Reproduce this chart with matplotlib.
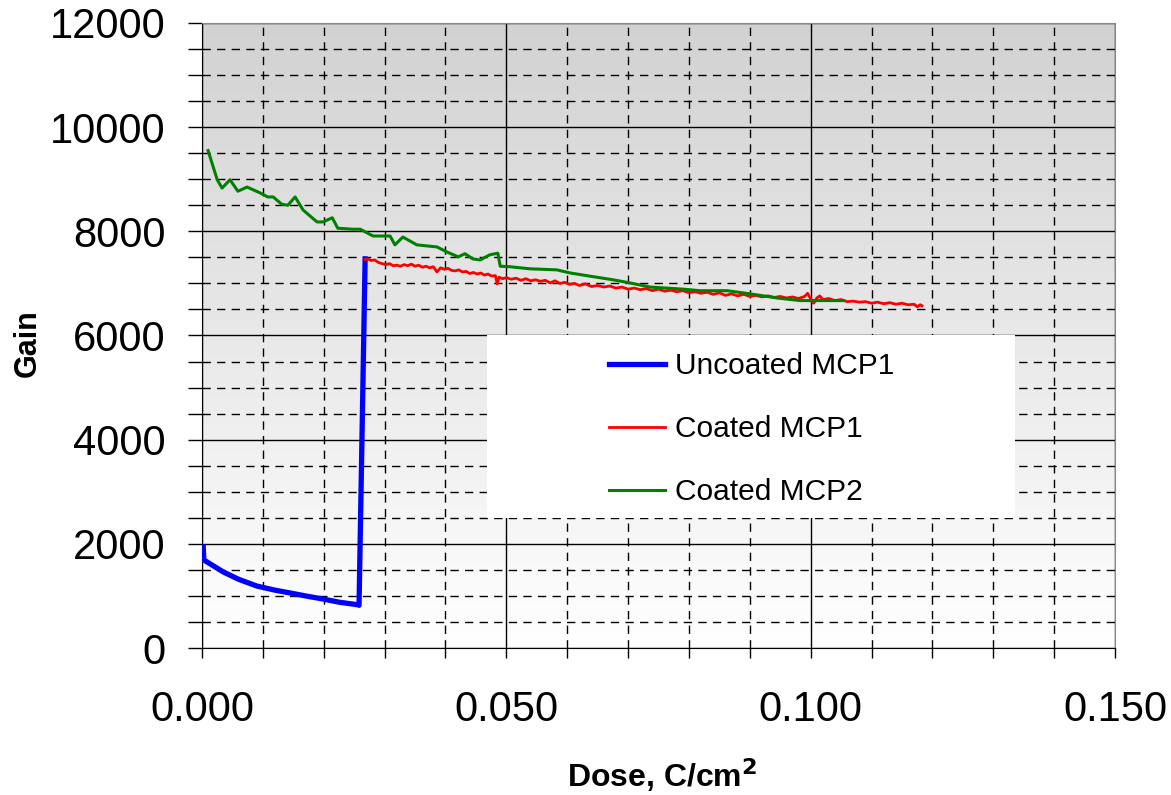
import numpy as np
import matplotlib
matplotlib.use("Agg")
import matplotlib.pyplot as plt
from matplotlib.colors import LinearSegmentedColormap
from matplotlib.ticker import MultipleLocator, FormatStrFormatter
from matplotlib.patches import Rectangle

plt.rcParams['font.family'] = ['Liberation Sans', 'DejaVu Sans']

# Uncoated MCP1 (blue)
blue_dose = [0.0002, 0.0003, 0.0010, 0.0035, 0.0060, 0.0090, 0.0120, 0.0145,
             0.0170, 0.0199, 0.0225, 0.0256, 0.0258, 0.0268]
blue_gain = [1940, 1690, 1640, 1460, 1320, 1190, 1110, 1056,
             1000, 940, 880, 830, 820, 7470]

# Coated MCP1 (red), read point by point incl. the wiggles
red_dose = [0.0268, 0.0272, 0.0278, 0.0284, 0.0290, 0.0296, 0.0302, 0.0308,
            0.0314, 0.0320, 0.0326, 0.0332, 0.0338, 0.0344, 0.0350, 0.0356,
            0.0362, 0.0368, 0.0374, 0.0380, 0.0386, 0.0392, 0.0398, 0.0404,
            0.0410, 0.0416, 0.0422, 0.0428, 0.0434, 0.0440, 0.0446, 0.0452,
            0.0458, 0.0464, 0.0470, 0.0476, 0.0482, 0.0485, 0.0488, 0.0494,
            0.0500, 0.0508, 0.0516, 0.0524, 0.0532, 0.0540, 0.0548, 0.0556,
            0.0564, 0.0572, 0.0580, 0.0588, 0.0596, 0.0604, 0.0612, 0.0620,
            0.0630, 0.0640, 0.0650, 0.0660, 0.0670, 0.0680, 0.0690, 0.0700,
            0.0710, 0.0720, 0.0730, 0.0740, 0.0750, 0.0760, 0.0770, 0.0780,
            0.0790, 0.0800, 0.0810, 0.0820, 0.0830, 0.0840, 0.0850, 0.0860,
            0.0870, 0.0880, 0.0890, 0.0900, 0.0910, 0.0920, 0.0930, 0.0940,
            0.0950, 0.0960, 0.0970, 0.0980, 0.0990, 0.0995, 0.1000, 0.1005,
            0.1010, 0.1015, 0.1020, 0.1030, 0.1040, 0.1050, 0.1060, 0.1070,
            0.1080, 0.1090, 0.1100, 0.1110, 0.1120, 0.1130, 0.1140, 0.1150,
            0.1160, 0.1170, 0.1175, 0.1180, 0.1183]
red_gain = [7460, 7470, 7440, 7450, 7400, 7380, 7360, 7380,
            7340, 7350, 7330, 7360, 7340, 7370, 7330, 7350,
            7310, 7330, 7300, 7320, 7220, 7300, 7270, 7290,
            7250, 7240, 7260, 7220, 7230, 7190, 7210, 7180,
            7200, 7160, 7180, 7140, 7150, 6990, 7120, 7090,
            7110, 7080, 7100, 7060, 7090, 7050, 7070, 7040,
            7060, 7010, 7050, 7000, 7020, 6980, 7000, 6960,
            6990, 6940, 6960, 6930, 6950, 6910, 6930, 6890,
            6910, 6880, 6900, 6860, 6890, 6850, 6870, 6840,
            6860, 6820, 6840, 6810, 6830, 6790, 6820, 6770,
            6800, 6760, 6790, 6750, 6770, 6740, 6760, 6730,
            6750, 6720, 6740, 6710, 6750, 6810, 6700, 6620,
            6720, 6760, 6690, 6710, 6670, 6690, 6650, 6660,
            6640, 6650, 6620, 6640, 6610, 6630, 6600, 6620,
            6590, 6600, 6550, 6590, 6570]

# Coated MCP2 (green)
green_dose = [0.0010, 0.0025, 0.0033, 0.0046, 0.0059, 0.0074, 0.0095, 0.0108,
              0.0117, 0.0131, 0.0141, 0.0153, 0.0166, 0.0189, 0.0199, 0.0214,
              0.0223, 0.0248, 0.0260, 0.0281, 0.0309, 0.0317, 0.0330, 0.0353,
              0.0386, 0.0403, 0.0421, 0.0432, 0.0445, 0.0457, 0.0473, 0.0486,
              0.0490, 0.0506, 0.0539, 0.0583, 0.0605, 0.0637, 0.0675, 0.0703,
              0.0736, 0.0790, 0.0818, 0.0863, 0.0900, 0.0945, 0.0983, 0.1053]
green_gain = [9550, 8990, 8830, 8990, 8770, 8850, 8740, 8660,
              8660, 8520, 8500, 8660, 8410, 8180, 8180, 8260,
              8060, 8040, 8040, 7910, 7910, 7740, 7890, 7740,
              7700, 7600, 7510, 7570, 7470, 7450, 7550, 7580,
              7330, 7320, 7280, 7260, 7200, 7140, 7070, 7010,
              6930, 6890, 6860, 6860, 6800, 6720, 6670, 6670]

x_ticks = [0.0, 0.05, 0.10, 0.15]
y_ticks = [0, 2000, 4000, 6000, 8000, 10000, 12000]

fig = plt.figure(figsize=(11.71, 7.95), dpi=100)
ax = fig.add_axes([0.1725, 0.1849, 0.7797, 0.7862])

# grey-to-white background
grad = LinearSegmentedColormap.from_list('bg', ['#ffffff', '#d2d2d2'])
ax.imshow(np.linspace(0, 1, 256).reshape(-1, 1), cmap=grad, origin='lower',
          extent=[0, 1, 0, 1], transform=ax.transAxes, aspect='auto', zorder=0)

ax.set_xlim(0, 0.15)
ax.set_ylim(0, 12000)
ax.set_xticks(x_ticks)
ax.set_yticks(y_ticks)
ax.xaxis.set_minor_locator(MultipleLocator(0.01))
ax.yaxis.set_minor_locator(MultipleLocator(500))
ax.xaxis.set_major_formatter(FormatStrFormatter('%.3f'))

ax.grid(which='major', color='black', lw=1.0, zorder=1)
ax.grid(which='minor', color='black', lw=1.0, linestyle=(0, (6, 4.5)), zorder=1)
ax.set_axisbelow(True)

ax.tick_params(which='both', direction='out', color='black', width=1)
ax.tick_params(axis='y', which='both', length=10, pad=16, labelsize=30)
ax.tick_params(axis='x', which='both', length=7, pad=23, labelsize=30)

for s in ['top', 'right']:
    ax.spines[s].set_color('#8a8a8a')
for s in ['left', 'bottom']:
    ax.spines[s].set_color('black')

# white legend area
ax.add_patch(Rectangle((0.312, 0.208), 0.578, 0.293, transform=ax.transAxes,
                       facecolor='white', edgecolor='none', zorder=2))

ax.plot(blue_dose, blue_gain, color='#0000ff', lw=3.8, label='Uncoated MCP1', zorder=3)
ax.plot(red_dose, red_gain, color='#ff0000', lw=2.0, label='Coated MCP1', zorder=3)
ax.plot(green_dose, green_gain, color='#008000', lw=2.2, label='Coated MCP2', zorder=4)

leg = ax.legend(loc='center', bbox_to_anchor=(0.602, 0.35), frameon=False,
                fontsize=21.5, handlelength=1.9, handletextpad=0.33,
                labelspacing=1.18, borderaxespad=0)
leg.set_zorder(5)

ax.set_xlabel('Dose, C/cm$^\\mathbf{2}$', fontsize=23, fontweight='bold')
ax.set_ylabel('Gain', fontsize=22, fontweight='bold')
ax.xaxis.set_label_coords(0.504, -0.174)
ax.yaxis.set_label_coords(-0.174, 0.488)

fig.savefig('out.png', dpi=100)
